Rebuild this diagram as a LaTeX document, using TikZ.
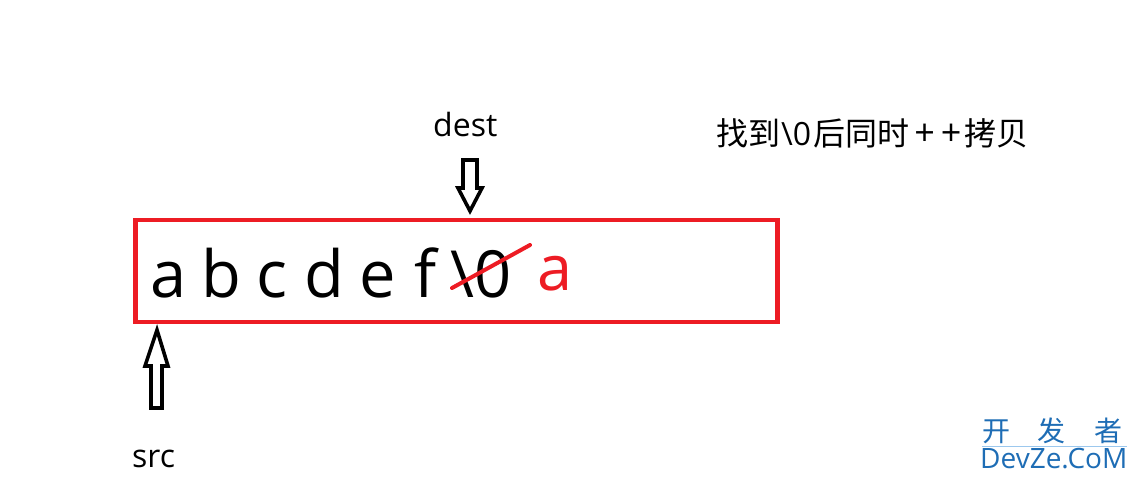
\documentclass[tikz,border=0pt]{standalone}
\usepackage{fontspec}
\setmainfont{Open Sans}
\newfontfamily\cjk{Noto Sans CJK SC}
\definecolor{boxred}{HTML}{ED1C24}
\definecolor{wmblue}{HTML}{1E6DB5}
\definecolor{wmline}{HTML}{9CC8EE}
\begin{document}
\begin{tikzpicture}[x=1pt,y=-1pt,
  big/.style={font=\fontsize{65}{78}\selectfont, inner sep=0pt, anchor=base west},
  lab/.style={font=\fontsize{32}{38}\selectfont, inner sep=0pt, anchor=base west},
  blockarrow/.style={draw=black, line width=3.6pt, line join=miter, fill=white},
  wm/.style={font=\cjk\fontsize{28}{32}\selectfont, text=wmblue, inner sep=0pt, anchor=base}
]
\useasboundingbox (0,0) rectangle (1137,480);
% red box
\node (box) [draw=boxred, line width=4.5pt, minimum width=642pt, minimum height=102pt, inner sep=0pt] at (456.5,271) {};
% letters
\node[big] (la) at (150,297) {a};
\node[big] (lb) at (201,297) {b};
\node[big] (lc) at (256,297) {c};
\node[big] (ld) at (304,297) {d};
\node[big] (le) at (359,297) {e};
\node[big] (lf) at (414,297) {f};
\node[big] (lz) at (450,297) {\textbackslash 0};
\node[big, text=boxred, font=\fontsize{63}{76}\selectfont] (ra) at (537,290) {a};
% strike-through
\draw[boxred, line width=4pt, line cap=round] (452,288) -- (530,245);
% dest arrow
\draw[blockarrow] (463,160) -- (477,160) -- (477,188) -- (482,188) -- (470,211) -- (458,188) -- (463,188) -- cycle;
\node[lab] (dest) at (433,136) {dest};
% src arrow
\draw[blockarrow] (157,330) -- (168,366) -- (162,366) -- (162,408) -- (151,408) -- (151,366) -- (145,366) -- cycle;
\node[lab] (src) at (132,467) {src};
% note
\node[font=\cjk\fontsize{32}{36}\selectfont, inner sep=0pt, anchor=base west] (note) at (716,145)
  {找到{\rmfamily\kern1pt\textbackslash 0\kern2pt}后同时{\rmfamily\kern5pt{\fontsize{36}{36}\selectfont +}\kern6pt{\fontsize{36}{36}\selectfont +}\kern3pt}拷贝};
% watermark
\node[wm] (w1) at (996,441) {开};
\node[wm] (w2) at (1051,441) {发};
\node[wm] (w3) at (1108,441) {者};
\draw[wmline, line width=1pt] (982,446) -- (1127,446);
\node[font=\fontsize{28}{32}\selectfont, text=wmblue, inner sep=0pt, anchor=base west] (dz) at (980,468) {DevZe.CoM};
\end{tikzpicture}
\end{document}
